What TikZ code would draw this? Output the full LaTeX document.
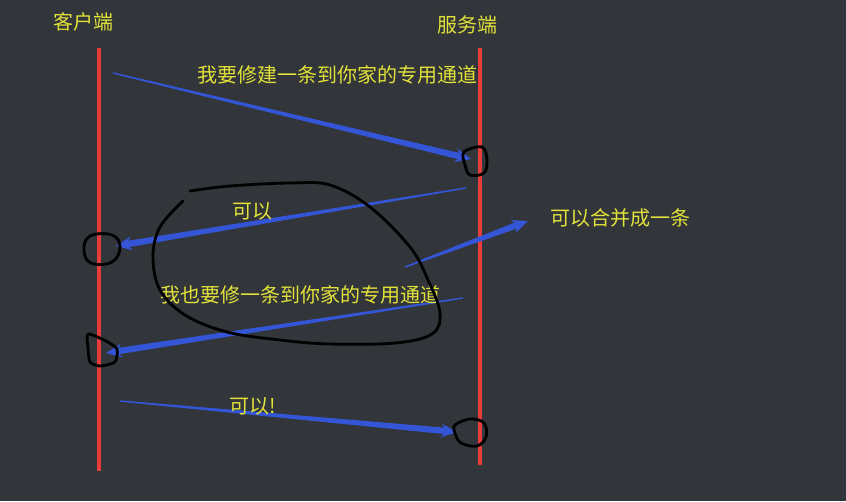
\documentclass[tikz,border=0pt]{standalone}
\usepackage{fontspec}
\newfontfamily\cjk{Noto Sans CJK SC}
\usetikzlibrary{calc}
\definecolor{bg}{RGB}{50,53,57}
\definecolor{lifered}{RGB}{232,60,60}
\definecolor{msgblue}{RGB}{52,86,214}
\definecolor{txtyellow}{RGB}{226,226,58}
\tikzset{
  label/.style={text=txtyellow, font=\cjk\fontsize{20}{22}\selectfont, inner sep=0pt},
  lifeline/.style={draw=lifered, line width=4.5pt},
  scribble/.style={draw=black, line width=2.8pt, line cap=round, line join=round},
}
% tapered arrow from #1 (thin end) to #2 (tip)
\newcommand{\sendarrow}[2]{%
  \fill[msgblue]
    ($(#1)!0.7pt!90:(#2)$) --
    ($($(#2)!13pt!(#1)$)!3.2pt!90:(#2)$) --
    ($($(#2)!16pt!(#1)$)!7pt!90:(#2)$) --
    (#2) --
    ($($(#2)!16pt!(#1)$)!7pt!-90:(#2)$) --
    ($($(#2)!13pt!(#1)$)!3.2pt!-90:(#2)$) --
    ($(#1)!0.7pt!-90:(#2)$) -- cycle;
}
\begin{document}
\begin{tikzpicture}[x=1pt,y=-1pt]
  \fill[bg] (0,0) rectangle (846,501);
  \useasboundingbox (0,0) rectangle (846,501);

  % lifelines
  \node[label] (client) at (83,22) {客户端};
  \node[label] (server) at (467,25) {服务端};
  \coordinate (c top) at (99,48);
  \coordinate (c bot) at (99,471);
  \coordinate (s top) at (480,48);
  \coordinate (s bot) at (480,465);
  \draw[lifeline] (c top) -- (c bot);
  \draw[lifeline, line width=3.5pt] (s top) -- (s bot);

  % messages
  \coordinate (m1 from) at (113,73);
  \coordinate (m1 to) at (471,159);
  \coordinate (m2 from) at (466,188);
  \coordinate (m2 to) at (116,246);
  \coordinate (m3 from) at (405,267);
  \coordinate (m3 to) at (528,221);
  \coordinate (m4 from) at (463,298);
  \coordinate (m4 to) at (106,353);
  \coordinate (m5 from) at (120,401);
  \coordinate (m5 to) at (457,432);
  \sendarrow{m1 from}{m1 to}
  \sendarrow{m2 from}{m2 to}
  \sendarrow{m3 from}{m3 to}
  \sendarrow{m4 from}{m4 to}
  \sendarrow{m5 from}{m5 to}

  \node[label] (t1) at (337,75) {我要修建一条到你家的专用通道};
  \node[label] (t2) at (252,211) {可以};
  \node[label] (t3) at (620,218) {可以合并成一条};
  \node[label] (t4) at (300,295) {我也要修一条到你家的专用通道};
  \node[label] (t5) at (253,406) {可以!};

  % hand-drawn marks
  \draw[scribble] plot[smooth cycle, tension=0.6] coordinates
    {(464,152) (482,147) (487,160) (484,173) (470,175) (465,165)};
  \draw[scribble] plot[smooth cycle, tension=0.7] coordinates
    {(90,236) (112,235) (120,247) (112,262) (91,263) (84,250)};
  \draw[scribble] plot[smooth cycle, tension=0.4] coordinates
    {(88,334) (106,341) (117,349) (115,362) (100,366) (90,362) (88,348)};
  \draw[scribble] plot[smooth cycle, tension=0.6] coordinates
    {(455,425) (470,419) (484,423) (486,437) (477,446) (461,443) (455,433)};
  \draw[scribble] plot[smooth, tension=0.6] coordinates
    {(190,191) (230,186) (290,183) (330,185) (370,207) (410,247)
     (428,280) (440,313) (432,334) (395,343) (330,344) (280,340)
     (227,332) (185,315) (160,290) (153,257) (160,227) (183,201)};
\end{tikzpicture}
\end{document}
